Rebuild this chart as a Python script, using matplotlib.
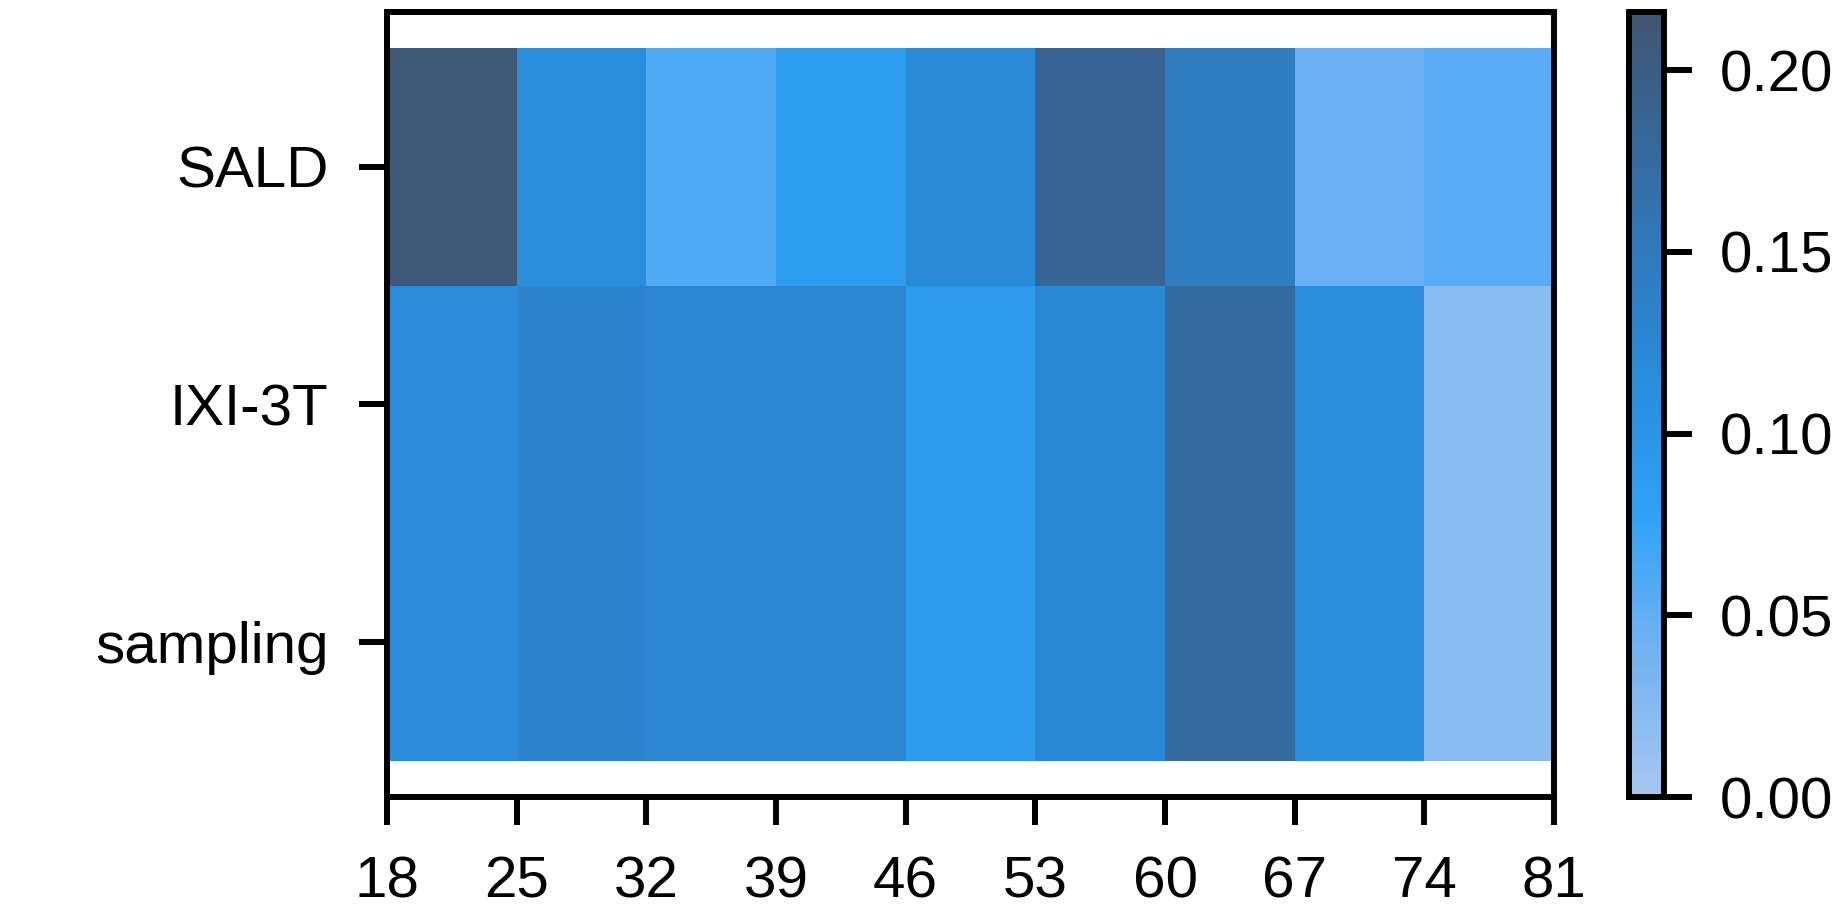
import matplotlib
matplotlib.use('Agg')
import matplotlib.pyplot as plt
from matplotlib.colors import LinearSegmentedColormap
import numpy as np

# DATA
datasets = ['SALD', 'IXI-3T', 'sampling']
age_edges = [18, 25, 32, 39, 46, 53, 60, 67, 74, 81]
sald = [0.210, 0.112, 0.060, 0.085, 0.117, 0.185, 0.142, 0.045, 0.055]
ixi3t = [0.115, 0.132, 0.127, 0.127, 0.088, 0.120, 0.175, 0.110, 0.022]
sampling = [0.115, 0.132, 0.127, 0.127, 0.088, 0.120, 0.175, 0.110, 0.022]
cbar_ticks = [0.00, 0.05, 0.10, 0.15, 0.20]

plt.rcParams['font.family'] = ['Liberation Sans', 'DejaVu Sans']

cmap = LinearSegmentedColormap.from_list('blues_slate', [
    (0.00, '#a8c6ee'),
    (0.20, '#6db1f2'),
    (0.36, '#2ea2f4'),
    (0.55, '#2a8ad8'),
    (0.72, '#3177b6'),
    (0.86, '#386594'),
    (1.00, '#3f5570'),
])

Z = np.array([sald, ixi3t, sampling])

fig = plt.figure(figsize=(18.49, 9.21), dpi=100)
ax = fig.add_axes([387 / 1849, 1 - 797 / 921, (1554 - 387) / 1849, (797 - 12) / 921])
cax = fig.add_axes([1629 / 1849, 1 - 797 / 921, 35 / 1849, (797 - 12) / 921])

mesh = ax.pcolormesh(age_edges, np.arange(len(datasets) + 1), Z, cmap=cmap,
                     vmin=0, vmax=0.216)
ax.set_ylim(3.15, -0.15)
ax.set_xlim(18, 81)
ax.set_xticks(age_edges)
ax.set_yticks(np.arange(len(datasets)) + 0.5)
ax.set_yticklabels(datasets)

lw = 4.3
for s in ax.spines.values():
    s.set_linewidth(lw)
ax.tick_params(axis='both', labelsize=42, length=20, width=lw)
ax.tick_params(axis='x', pad=22)
ax.tick_params(axis='y', pad=22)

cb = fig.colorbar(mesh, cax=cax, ticks=cbar_ticks)
cb.ax.set_yticklabels(['%.2f' % t for t in cbar_ticks])
cb.outline.set_linewidth(lw)
cb.ax.tick_params(labelsize=42, length=20, width=lw, pad=20)

fig.savefig('out.png', dpi=100)
